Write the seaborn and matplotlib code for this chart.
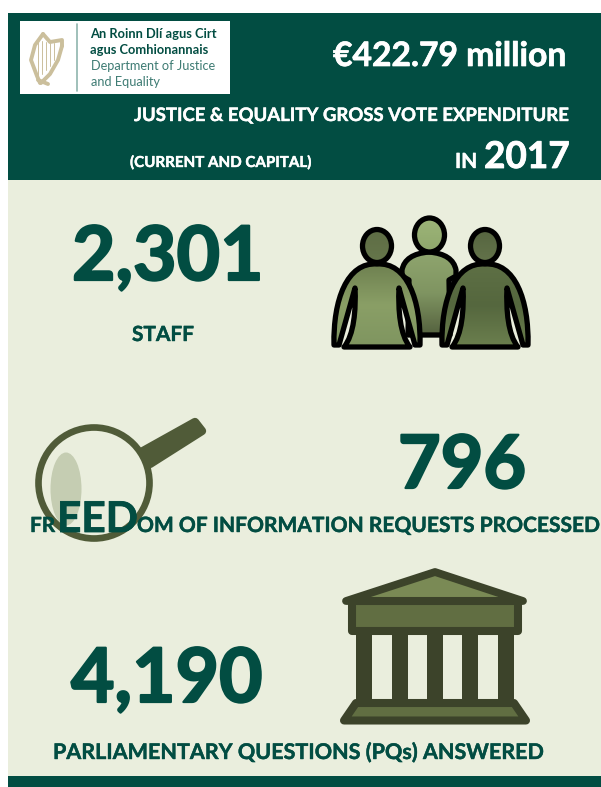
# Department of Justice and Equality 2017 infographic, header band plus three headline figures with icons.

import numpy as np
import matplotlib.pyplot as plt
import matplotlib.patheffects as pe
from matplotlib.patches import Rectangle, Ellipse, Polygon, PathPatch
from matplotlib.path import Path
from matplotlib.transforms import Affine2D
import seaborn as sns

# Chart text and values
logo_irish = ["An Roinn Dlí agus Cirt", "agus Comhionannais"]
logo_english = ["Department of Justice", "and Equality"]
total_spend = "€422.79 million"
spend_title = "JUSTICE & EQUALITY GROSS VOTE EXPENDITURE"
spend_note = "(CURRENT AND CAPITAL)"
spend_in = "IN"
spend_year = "2017"
stat_values = ["2,301", "796", "4,190"]
stat_labels = ["STAFF", "OM OF INFORMATION REQUESTS PROCESSED", "PARLIAMENTARY QUESTIONS (PQs) ANSWERED"]
foi_start = ["FR", "EED"]

# Colors
dark_green = "#024D42"
panel_color = "#EAEEDD"
logo_teal = "#3F7C74"
harp_color = "#CBBF9C"
glass_color = "#505B38"
lens_color = "#C5CDB2"
temple_dark = "#3C432A"
temple_mid = "#616E42"
temple_light = "#7A8A55"

sns.set_theme(style="white")
plt.rcParams['font.family'] = ['Lato', 'DejaVu Sans']

fig, ax = plt.subplots(figsize=(6.01, 7.87), dpi=100)
fig.subplots_adjust(0, 0, 1, 1)
ax.set_xlim(0, 601)
ax.set_ylim(787, 0)
ax.axis("off")
sns.despine(ax=ax, left=True, bottom=True)


def label(x, y, s, size, color=dark_green, weight="bold", thick=0.0, zorder=6):
    # Baseline text, thick adds a stroke because Lato bold is lighter than the original face
    t = ax.text(x, y, s, color=color, fontsize=size, fontweight=weight, zorder=zorder)
    if thick:
        t.set_path_effects([pe.withStroke(linewidth=thick, foreground=color)])
    return t


# Background blocks
ax.add_patch(Rectangle((8, 13), 593, 167, color=dark_green, lw=0, zorder=1))
ax.add_patch(Rectangle((8, 180), 593, 596, color=panel_color, lw=0, zorder=1))
ax.add_patch(Rectangle((8, 776), 593, 11, color=dark_green, lw=0, zorder=1))

# Logo box
ax.add_patch(Rectangle((20, 21), 210, 73, color="white", lw=0, zorder=2))
ax.plot([77, 77], [24, 91], color="#8FB5AE", lw=1.2, zorder=3)
harp_lines = [
    ([43, 35, 31, 37, 40], [34, 45, 60, 76, 83]),
    ([43, 50, 62, 62], [34, 42, 40, 46]),
    ([62, 58, 50, 41], [46, 60, 74, 83]),
    ([38, 48], [80, 84]),
]
for xs, ys in harp_lines:
    ax.plot(xs, ys, color=harp_color, lw=2.8, solid_capstyle="round", zorder=3)
for x0, y0, y1 in [(38, 42, 76), (42, 41, 74), (46, 42, 70), (50, 43, 66), (54, 43, 60)]:
    ax.plot([x0, x0], [y0, y1], color=harp_color, lw=0.7, zorder=3)
for i, line in enumerate(logo_irish):
    label(90.5, 38 + 16 * i, line, 9.3, zorder=3)
for i, line in enumerate(logo_english):
    label(91, 70 + 16 * i, line, 9.2, color=logo_teal, weight="normal", zorder=3)

# Header text
label(333, 66, total_spend, 24.2, color="white", thick=0.5, zorder=3)
label(134, 121, spend_title, 13.35, color="white", thick=0.3, zorder=3)
label(130, 167, spend_note, 10.9, color="white", thick=0.3, zorder=3)
label(455, 168, spend_in, 15, color="white", thick=0.3, zorder=3)
label(484, 168, spend_year, 26.6, color="white", thick=0.6, zorder=3)


def gradient_patch(path, colors, edge="black", lw=3.8, zorder=3):
    # Fill a path with a vertical blend, then stroke it
    patch = PathPatch(path, facecolor="none", edgecolor="none", zorder=zorder)
    ax.add_patch(patch)
    box = path.get_extents()
    cmap = sns.blend_palette(colors, 64, as_cmap=True)
    shade = np.linspace(0, 1, 64).reshape(-1, 1)
    img = ax.imshow(shade, cmap=cmap, aspect="auto", zorder=zorder, interpolation="bilinear",
                    extent=(box.x0, box.x1, box.y1, box.y0))
    img.set_clip_path(patch)
    ax.add_patch(PathPatch(path, facecolor="none", edgecolor=edge, lw=lw, joinstyle="round", zorder=zorder))


def head_path(cx, cy, w, h):
    return Path.unit_circle().transformed(Affine2D().scale(w / 2, h / 2).translate(cx, cy))


def body_path(cx):
    # Figure outline with the arms split from the torso
    verts = [(cx, 264), (cx - 30, 262), (cx - 44, 300), (cx - 43, 345),
             (cx - 38, 345), (cx - 22, 288),
             (cx - 21, 310), (cx - 23, 335), (cx - 33, 347),
             (cx + 33, 347), (cx + 23, 335), (cx + 21, 310), (cx + 22, 288),
             (cx + 38, 345), (cx + 43, 345),
             (cx + 44, 300), (cx + 30, 262), (cx, 264), (cx, 264)]
    codes = [Path.MOVETO, Path.CURVE4, Path.CURVE4, Path.CURVE4,
             Path.LINETO, Path.LINETO,
             Path.CURVE4, Path.CURVE4, Path.CURVE4,
             Path.LINETO, Path.CURVE4, Path.CURVE4, Path.CURVE4,
             Path.LINETO, Path.LINETO,
             Path.CURVE4, Path.CURVE4, Path.CURVE4, Path.CLOSEPOLY]
    return Path(verts, codes)


# People icon, middle figure sits behind the other two
mid_body = Path([(429, 252), (405, 254), (402, 270), (402, 276), (409, 280), (408, 335),
                 (450, 335), (449, 280), (456, 276), (456, 270), (453, 254), (429, 252), (429, 252)],
                [Path.MOVETO, Path.CURVE3, Path.CURVE3, Path.LINETO, Path.LINETO, Path.LINETO,
                 Path.LINETO, Path.LINETO, Path.LINETO, Path.LINETO, Path.CURVE3, Path.CURVE3, Path.CLOSEPOLY])
gradient_patch(mid_body, ["#8FA56E", "#7F9461", "#55623F"], zorder=3)
gradient_patch(head_path(429.5, 235, 30, 34), ["#9DB578", "#8FA76C"], zorder=3)
gradient_patch(body_path(377), ["#6E8050", "#8A9F66", "#7F9560"], zorder=4)
gradient_patch(head_path(377, 246, 29, 33), ["#5E6D45", "#66764B"], zorder=4)
gradient_patch(body_path(485), ["#5E7045", "#55673E", "#6B7F4E"], zorder=5)
gradient_patch(head_path(485, 246, 29, 33), ["#566540", "#63734A"], zorder=5)

# Magnifying glass, text goes over it
ax.add_patch(Ellipse((66, 489), 31, 73, color=lens_color, lw=0, zorder=2))
ax.add_patch(Ellipse((94, 483), 111, 111, fill=False, edgecolor=glass_color, lw=4.8, zorder=2))
ax.add_patch(Polygon([(143, 451), (195, 422), (202, 431), (150, 464)], facecolor=glass_color,
                     edgecolor=glass_color, lw=6, joinstyle="round", zorder=2))

# Temple icon
columns = [(356, 372), (392, 408), (427, 443), (462, 478), (498, 514)]
for x0, x1 in columns:
    ax.add_patch(Rectangle((x0, 630), x1 - x0, 75, color=temple_dark, lw=0, zorder=3))
ax.add_patch(Polygon([(346, 601), (435, 572), (523, 601)], facecolor=temple_light, edgecolor=temple_dark,
                     lw=5.6, joinstyle="round", zorder=3))
ax.add_patch(Rectangle((352, 601), 166, 30, facecolor=temple_mid, edgecolor=temple_dark,
                       lw=5.8, joinstyle="round", zorder=3))
ax.add_patch(Polygon([(356, 703), (514, 703), (526, 720.5), (344, 720.5)], facecolor=temple_mid,
                     edgecolor=temple_dark, lw=5.8, joinstyle="round", zorder=3))

# Headline figures
label(72, 280, stat_values[0], 54, thick=1.6)
label(132, 341, stat_labels[0], 15, thick=0.3)
label(398, 488, stat_values[1], 53, thick=1.6)
label(30, 532, foi_start[0], 15, thick=0.3)
label(57, 532, foi_start[1], 30.5, thick=0.6)
label(137, 532, stat_labels[1], 15.1, thick=0.3)
label(71, 702, stat_values[2], 54, thick=1.6)
label(53, 759, stat_labels[2], 15.5, thick=0.3)

ax.set_xlim(0, 601)
ax.set_ylim(787, 0)
plt.savefig("out.png", dpi=100)
plt.close()
